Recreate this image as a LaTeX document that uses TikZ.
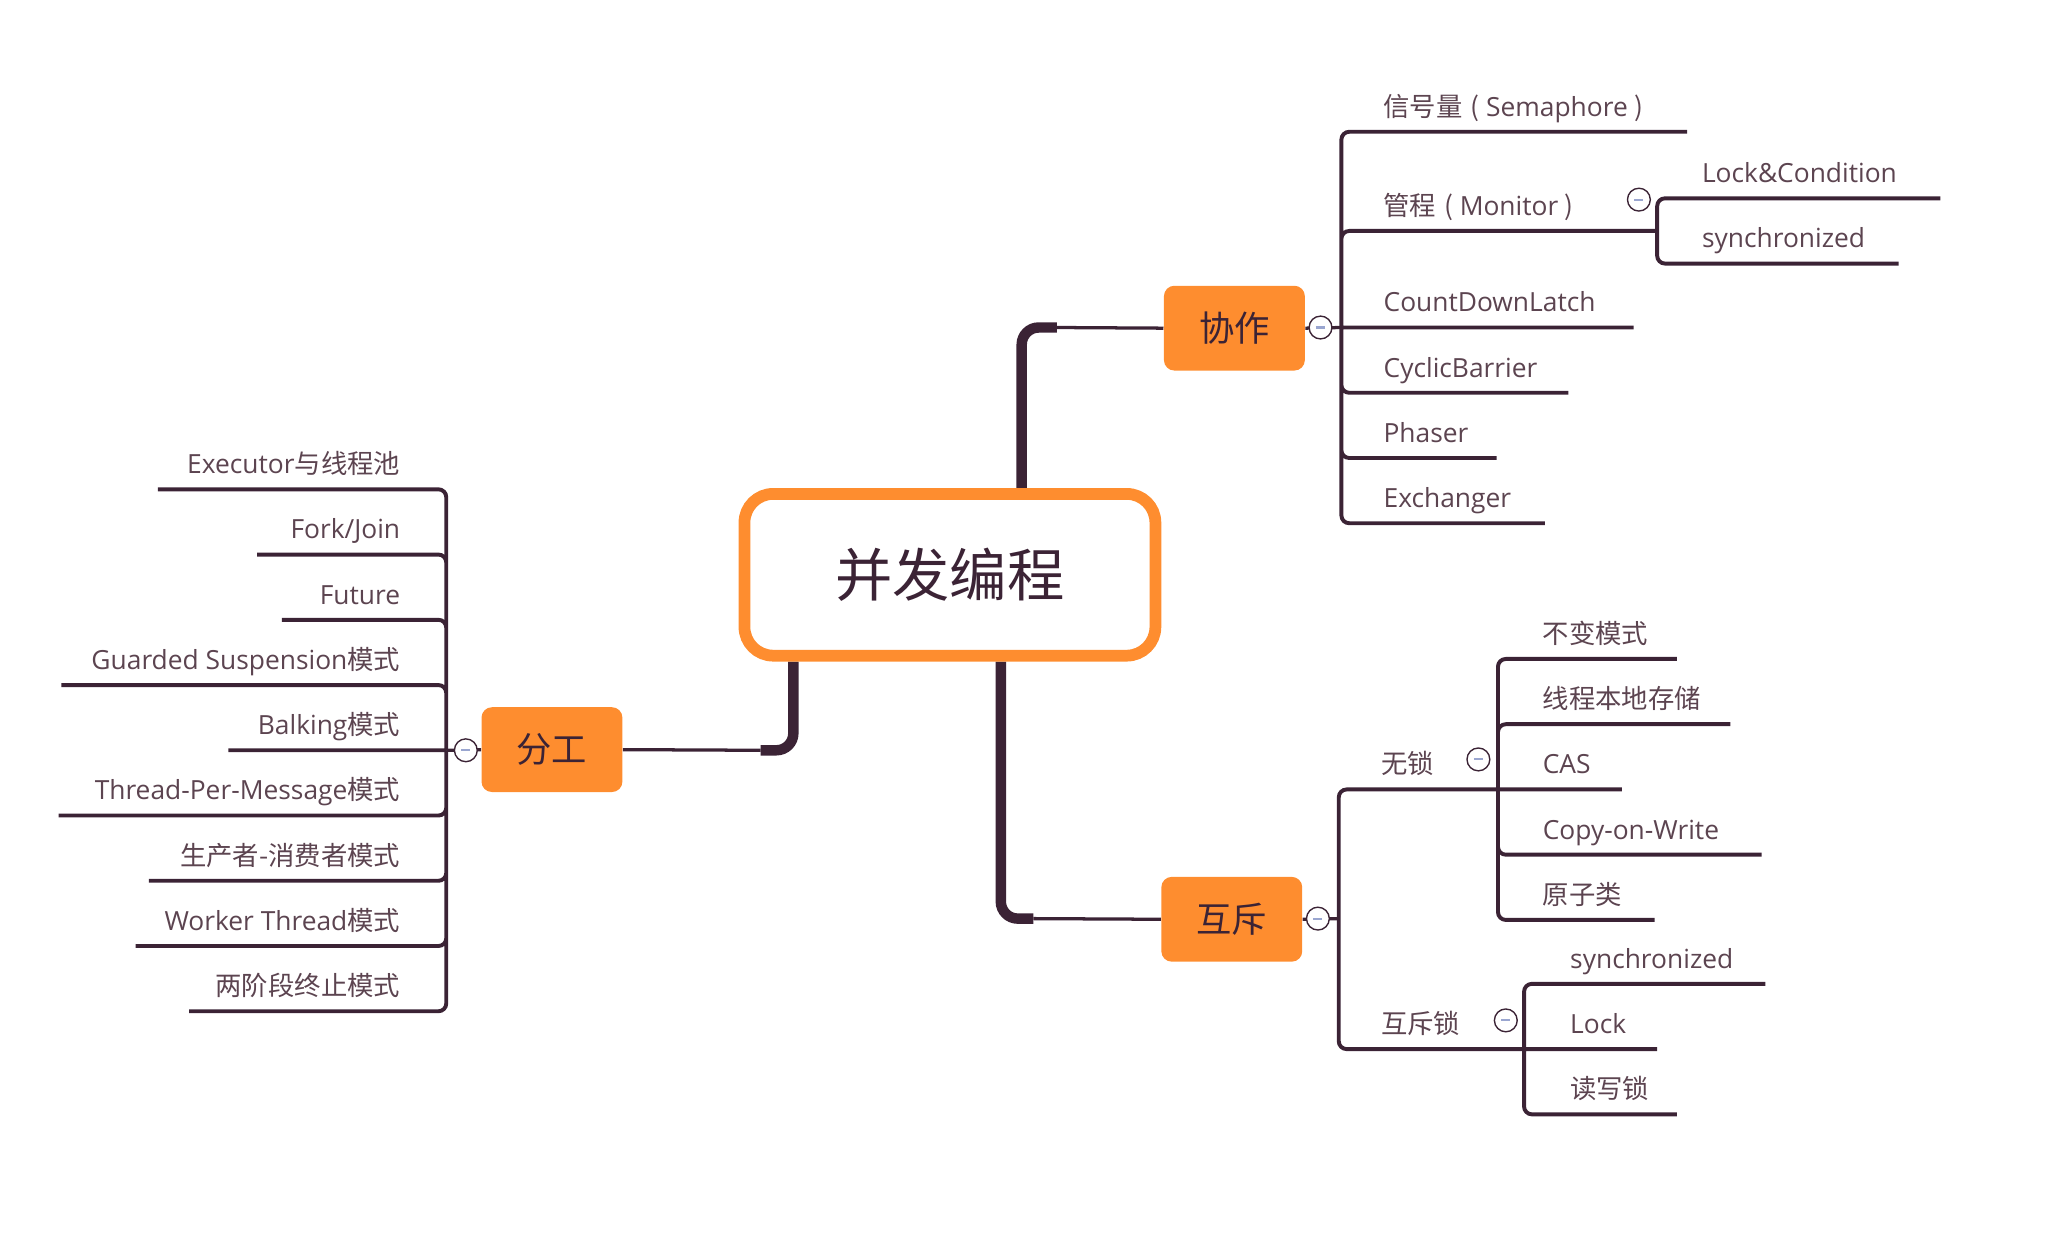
\documentclass[tikz,border=0pt]{standalone}
\usepackage{fontspec}
\setmainfont{Open Sans}
\newfontfamily\cjk{Noto Sans CJK SC}
\usetikzlibrary{backgrounds}
\definecolor{ink}{HTML}{3B2335}
\definecolor{txt}{HTML}{5C4450}
\definecolor{tangerine}{HTML}{FE8D2F}
\definecolor{foldmark}{HTML}{9AA6D0}

\begin{document}
\begin{tikzpicture}[x=0.02cm,y=-0.02cm,
			topic/.style={draw=tangerine,line width=0.18cm,fill=white,rounded corners=0.44cm,minimum width=6.3cm,minimum height=2.48cm,text=ink,font=\cjk\fontsize{25}{30}\selectfont},
			branch/.style={fill=tangerine,rounded corners=0.16cm,minimum width=2.16cm,minimum height=1.3cm,text=ink,font=\cjk\fontsize{15.4}{18}\selectfont},
			leaf/.style={anchor=base west,inner sep=0,text=txt,font=\fontsize{11.5}{14}\selectfont},
			leafl/.style={leaf,anchor=base east},
			fold/.style={circle,draw=ink,line width=0.6pt,fill=white,minimum size=0.35cm,inner sep=0,
				path picture={\draw[foldmark,line width=0.9pt] ([xshift=-0.07cm]path picture bounding box.center) -- ([xshift=0.07cm]path picture bounding box.center);}},
			stem/.style={draw=ink,line width=0.16cm,rounded corners=0.26cm},
			twig/.style={draw=ink,line width=0.06cm,rounded corners=0.12cm},
			link/.style={draw=ink,line width=0.05cm}
		]
		\useasboundingbox (0,0) rectangle (1568,952);

		\node[topic]  (root)    at (728,440.5) {并发编程};
		\node[branch] (xiezuo)  at (946,251.5) {协作};
		\node[branch] (fengong) at (423,574.5) {分工};
		\node[branch] (huchi)   at (944,704.5) {互斥};

		\node[fold] (xzF)  at (1012,251) {};
		\node[fold] (mgF)  at (1256,153) {};
		\node[fold] (fgF)  at (357,575)  {};
		\node[fold] (hcF)  at (1010,704) {};
		\node[fold] (wsF)  at (1133,582) {};
		\node[fold] (hslF) at (1154,782) {};

		\coordinate (xzS) at (783,251);  \coordinate (xzT) at (810,251);
		\coordinate (fgS) at (608,575);  \coordinate (fgT) at (583,575);
		\coordinate (hcS) at (767,704);  \coordinate (hcT) at (792,704);
		\coordinate (xzJ) at (1028,251);
		\coordinate (fgJ) at (342,575);
		\coordinate (hcJ) at (1026,704);
		\coordinate (monJ) at (1270,177);
		\coordinate (wsJ)  at (1148,605);
		\coordinate (hslJ) at (1168,804);

		\coordinate (semE) at (1293,101);
		\coordinate (lcE)  at (1487,152);
		\coordinate (syn1E) at (1455,202);
		\coordinate (cdlE) at (1252,251);
		\coordinate (cybE) at (1202,301);
		\coordinate (phaE) at (1147,351);
		\coordinate (excE) at (1184,401);

		\coordinate (exeE) at (121,375);
		\coordinate (fjE)  at (197,425);
		\coordinate (futE) at (216,475);
		\coordinate (gsE)  at (47,525);
		\coordinate (balE) at (175,575);
		\coordinate (tpmE) at (45,625);
		\coordinate (pcE)  at (114,675);
		\coordinate (wtE)  at (104,725);
		\coordinate (tptE) at (145,775);

		\coordinate (bbE)  at (1285,505);
		\coordinate (tlsE) at (1326,555);
		\coordinate (casE) at (1243,605);
		\coordinate (cowE) at (1350,655);
		\coordinate (atoE) at (1268,705);
		\coordinate (syn2E) at (1353,754);
		\coordinate (lockE) at (1270,804);
		\coordinate (rwE)  at (1285,854);

		\node[leaf] (sem)  at (1060,89)  {{\cjk 信号量\hspace{0.3em}(\hspace{0.25em}}Semaphore{\cjk\hspace{0.25em})}};
		\node[leaf] (mon)  at (1060,165) {{\cjk 管程\hspace{0.3em}(\hspace{0.25em}}Monitor{\cjk\hspace{0.25em})}};
		\node[leaf] (lc)   at (1304,140) {Lock\&Condition};
		\node[leaf] (syn1) at (1304,190) {synchronized};
		\node[leaf] (cdl)  at (1060,239) {CountDownLatch};
		\node[leaf] (cyb)  at (1060,289) {CyclicBarrier};
		\node[leaf] (pha)  at (1060,339) {Phaser};
		\node[leaf] (exc)  at (1060,389) {Exchanger};

		\node[leafl] (exe) at (307,363) {Executor{\cjk 与线程池}};
		\node[leafl] (fj)  at (307,413) {Fork/Join};
		\node[leafl] (fut) at (307,463) {Future};
		\node[leafl] (gs)  at (307,513) {Guarded Suspension{\cjk 模式}};
		\node[leafl] (bal) at (307,563) {Balking{\cjk 模式}};
		\node[leafl] (tpm) at (307,613) {Thread-Per-Message{\cjk 模式}};
		\node[leafl] (pc)  at (307,663) {\cjk 生产者-消费者模式};
		\node[leafl] (wt)  at (307,713) {Worker Thread{\cjk 模式}};
		\node[leafl] (tpt) at (307,763) {\cjk 两阶段终止模式};

		\node[leaf] (ws)   at (1058,593) {\cjk 无锁};
		\node[leaf] (bb)   at (1182,493) {\cjk 不变模式};
		\node[leaf] (tls)  at (1182,543) {\cjk 线程本地存储};
		\node[leaf] (cas)  at (1182,593) {CAS};
		\node[leaf] (cow)  at (1182,643) {Copy-on-Write};
		\node[leaf] (ato)  at (1182,693) {\cjk 原子类};
		\node[leaf] (hsl)  at (1058,792) {\cjk 互斥锁};
		\node[leaf] (syn2) at (1203,742) {synchronized};
		\node[leaf] (lock) at (1203,792) {Lock};
		\node[leaf] (rw)   at (1203,842) {\cjk 读写锁};

		\begin{scope}[on background layer]
			\draw[stem] (root.north -| xzS) |- (xzT);
			\draw[stem] (root.south -| fgS) |- (fgT);
			\draw[stem] (root.south -| hcS) |- (hcT);
			\draw[link] (xzT) -- (xiezuo.west);
			\draw[link] (fgT) -- (fengong.east);
			\draw[link] (hcT) -- (huchi.west);

			\draw[link] (xiezuo.east) -- (xzJ);
			\draw[twig] (xzJ) |- (semE) (xzJ) |- (monJ) (xzJ) -- (cdlE) (xzJ) |- (cybE) (xzJ) |- (phaE) (xzJ) |- (excE);
			\draw[twig] (monJ) |- (lcE) (monJ) |- (syn1E);

			\draw[link] (fengong.west) -- (fgJ);
			\draw[twig] (fgJ) |- (exeE) (fgJ) |- (fjE) (fgJ) |- (futE) (fgJ) |- (gsE) (fgJ) -- (balE);
			\draw[twig] (fgJ) |- (tpmE) (fgJ) |- (pcE) (fgJ) |- (wtE) (fgJ) |- (tptE);

			\draw[link] (huchi.east) -- (hcJ);
			\draw[twig] (hcJ) |- (wsJ) (hcJ) |- (hslJ);
			\draw[twig] (wsJ) |- (bbE) (wsJ) |- (tlsE) (wsJ) -- (casE) (wsJ) |- (cowE) (wsJ) |- (atoE);
			\draw[twig] (hslJ) |- (syn2E) (hslJ) -- (lockE) (hslJ) |- (rwE);
		\end{scope}
	\end{tikzpicture}
\end{document}
